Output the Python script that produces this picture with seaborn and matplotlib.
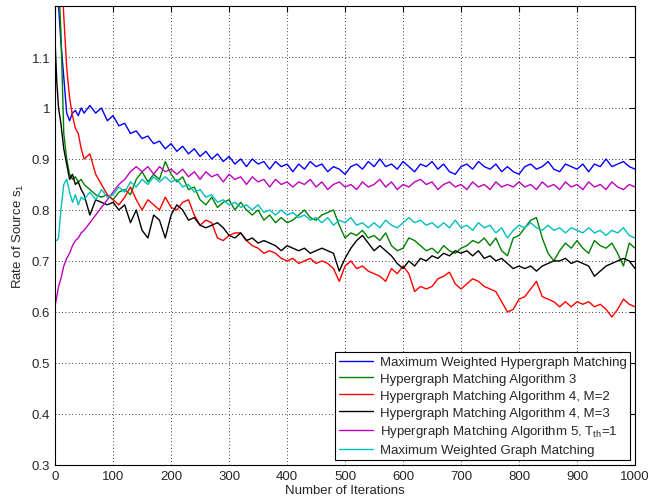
import pandas as pd
import seaborn as sns
import matplotlib
matplotlib.use("Agg")
import matplotlib.pyplot as plt

iterations = [0, 3, 6, 10, 15, 20, 25, 30, 35, 40, 45, 50] + list(range(60, 1001, 10))

mwhm = [1.40, 1.30, 1.20, 1.13, 1.06, 0.99, 0.975, 0.99, 0.995, 0.985, 1.0, 0.99,
        1.005, 0.99, 1.0, 0.975, 0.985, 0.965, 0.97, 0.95, 0.955, 0.94, 0.945, 0.93, 0.935, 0.92, 0.93,
        0.915, 0.925, 0.91, 0.92, 0.905, 0.915, 0.9, 0.91, 0.895, 0.905, 0.89, 0.9, 0.885, 0.9, 0.89, 0.895, 0.88, 0.895, 0.885, 0.89,
        0.875, 0.89, 0.88, 0.895, 0.885, 0.89, 0.875, 0.885, 0.88, 0.87, 0.885, 0.89, 0.88, 0.895, 0.885, 0.9, 0.885, 0.89, 0.88, 0.895,
        0.885, 0.875, 0.89, 0.885, 0.895, 0.88, 0.89, 0.875, 0.87, 0.885, 0.89, 0.88, 0.895, 0.885, 0.88, 0.89, 0.875, 0.885, 0.875, 0.87,
        0.885, 0.89, 0.88, 0.885, 0.895, 0.88, 0.875, 0.89, 0.885, 0.88, 0.89, 0.875, 0.89, 0.885, 0.9, 0.885, 0.89, 0.895, 0.885, 0.88]

alg3 = [1.45, 1.35, 1.25, 1.15, 0.95, 0.90, 0.87, 0.86, 0.865, 0.855, 0.86, 0.85,
        0.84, 0.83, 0.825, 0.83, 0.82, 0.835, 0.84, 0.83, 0.86, 0.875, 0.855, 0.87, 0.86, 0.895, 0.87,
        0.855, 0.865, 0.84, 0.845, 0.82, 0.81, 0.825, 0.805, 0.815, 0.82, 0.80, 0.815, 0.80, 0.79, 0.80, 0.78, 0.79, 0.775, 0.785, 0.775,
        0.78, 0.79, 0.80, 0.785, 0.78, 0.79, 0.795, 0.80, 0.77, 0.745, 0.755, 0.75, 0.76, 0.745, 0.75, 0.74, 0.755, 0.73, 0.72, 0.725,
        0.745, 0.74, 0.73, 0.72, 0.725, 0.715, 0.73, 0.72, 0.715, 0.725, 0.73, 0.74, 0.735, 0.745, 0.73, 0.745, 0.72, 0.71, 0.745, 0.75,
        0.765, 0.78, 0.785, 0.745, 0.715, 0.70, 0.72, 0.735, 0.725, 0.74, 0.725, 0.715, 0.74, 0.73, 0.725, 0.735, 0.715, 0.69, 0.735, 0.725]

alg4_m2 = [1.6, 1.5, 1.4, 1.3, 1.18, 1.08, 1.02, 0.985, 0.96, 0.95, 0.92, 0.90,
           0.91, 0.87, 0.85, 0.83, 0.82, 0.81, 0.825, 0.845, 0.82, 0.80, 0.82, 0.81, 0.80, 0.825, 0.805,
           0.80, 0.815, 0.82, 0.79, 0.77, 0.78, 0.775, 0.745, 0.74, 0.75, 0.755, 0.755, 0.74, 0.73, 0.725, 0.715, 0.72, 0.715, 0.705, 0.70,
           0.705, 0.695, 0.70, 0.705, 0.695, 0.70, 0.695, 0.685, 0.66, 0.69, 0.70, 0.685, 0.69, 0.68, 0.675, 0.67, 0.66, 0.685, 0.675, 0.69,
           0.675, 0.64, 0.65, 0.645, 0.65, 0.665, 0.67, 0.678, 0.655, 0.645, 0.655, 0.665, 0.66, 0.65, 0.645, 0.64, 0.62, 0.60, 0.605, 0.625,
           0.63, 0.645, 0.66, 0.63, 0.625, 0.62, 0.61, 0.62, 0.61, 0.62, 0.615, 0.62, 0.61, 0.615, 0.605, 0.59, 0.605, 0.625, 0.615, 0.61]

alg4_m3 = [1.13, 1.05, 1.0, 0.97, 0.92, 0.89, 0.86, 0.87, 0.85, 0.855, 0.84, 0.83,
           0.79, 0.82, 0.815, 0.81, 0.815, 0.80, 0.81, 0.775, 0.80, 0.76, 0.745, 0.79, 0.78, 0.745, 0.79,
           0.81, 0.80, 0.78, 0.785, 0.77, 0.765, 0.77, 0.775, 0.765, 0.75, 0.745, 0.755, 0.74, 0.745, 0.735, 0.74, 0.735, 0.73, 0.72, 0.73,
           0.725, 0.72, 0.725, 0.715, 0.72, 0.725, 0.72, 0.715, 0.68, 0.705, 0.725, 0.74, 0.75, 0.735, 0.72, 0.73, 0.72, 0.71, 0.695, 0.685,
           0.70, 0.69, 0.705, 0.70, 0.71, 0.705, 0.715, 0.71, 0.72, 0.715, 0.72, 0.71, 0.72, 0.705, 0.71, 0.70, 0.705, 0.695, 0.685, 0.69,
           0.685, 0.69, 0.68, 0.69, 0.695, 0.70, 0.70, 0.705, 0.695, 0.70, 0.695, 0.69, 0.67, 0.68, 0.69, 0.695, 0.70, 0.705, 0.70, 0.685]

alg5 = [0.612, 0.63, 0.65, 0.665, 0.69, 0.705, 0.715, 0.73, 0.74, 0.745, 0.755, 0.76,
        0.775, 0.79, 0.805, 0.82, 0.835, 0.85, 0.86, 0.875, 0.885, 0.875, 0.885, 0.87, 0.885, 0.875, 0.88,
        0.87, 0.88, 0.865, 0.875, 0.86, 0.875, 0.865, 0.87, 0.855, 0.87, 0.86, 0.865, 0.85, 0.865, 0.855, 0.86, 0.845, 0.86, 0.85, 0.855,
        0.845, 0.855, 0.85, 0.86, 0.845, 0.855, 0.84, 0.85, 0.855, 0.845, 0.85, 0.84, 0.855, 0.845, 0.85, 0.86, 0.845, 0.855, 0.84, 0.85,
        0.845, 0.855, 0.86, 0.85, 0.855, 0.84, 0.85, 0.855, 0.845, 0.85, 0.84, 0.855, 0.845, 0.85, 0.84, 0.855, 0.845, 0.85, 0.845, 0.855,
        0.845, 0.85, 0.84, 0.855, 0.845, 0.85, 0.84, 0.855, 0.845, 0.85, 0.84, 0.855, 0.845, 0.85, 0.84, 0.855, 0.845, 0.84, 0.85, 0.845]

mwgm = [0.74, 0.74, 0.745, 0.80, 0.85, 0.86, 0.835, 0.815, 0.83, 0.81, 0.825, 0.82,
        0.835, 0.82, 0.84, 0.825, 0.83, 0.845, 0.835, 0.855, 0.845, 0.86, 0.85, 0.865, 0.855, 0.865, 0.855,
        0.86, 0.845, 0.85, 0.835, 0.84, 0.825, 0.83, 0.815, 0.82, 0.81, 0.815, 0.805, 0.81, 0.80, 0.81, 0.795, 0.80, 0.79, 0.80, 0.79,
        0.795, 0.785, 0.79, 0.78, 0.785, 0.775, 0.785, 0.77, 0.78, 0.775, 0.785, 0.77, 0.775, 0.765, 0.775, 0.765, 0.78, 0.77, 0.765, 0.775,
        0.785, 0.775, 0.78, 0.77, 0.775, 0.765, 0.775, 0.765, 0.78, 0.765, 0.77, 0.76, 0.775, 0.765, 0.77, 0.755, 0.765, 0.745, 0.76, 0.77,
        0.765, 0.775, 0.765, 0.76, 0.77, 0.76, 0.765, 0.755, 0.765, 0.76, 0.755, 0.765, 0.755, 0.76, 0.75, 0.76, 0.755, 0.765, 0.75, 0.745]

labels = ["Maximum Weighted Hypergraph Matching",
          "Hypergraph Matching Algorithm 3",
          "Hypergraph Matching Algorithm 4, M=2",
          "Hypergraph Matching Algorithm 4, M=3",
          r"Hypergraph Matching Algorithm 5, $\mathregular{T_{th}}$=1",
          "Maximum Weighted Graph Matching"]
colors = ["#0000ff", "#008000", "#ff0000", "#000000", "#bf00bf", "#00bfbf"]
series = [mwhm, alg3, alg4_m2, alg4_m3, alg5, mwgm]

frames = []
for name, vals in zip(labels, series):
    assert len(vals) == len(iterations), name
    frames.append(pd.DataFrame({"Iteration": iterations, "Rate": vals, "Scheme": name}))
df = pd.concat(frames, ignore_index=True)

sns.set_style("white")
plt.rcParams["font.family"] = ["Liberation Sans", "DejaVu Sans"]
plt.rcParams["mathtext.fontset"] = "custom"
plt.rcParams["mathtext.rm"] = "Liberation Sans"

fig = plt.figure(figsize=(6.48, 5.02), dpi=100)
ax = fig.add_axes([0.085, 0.072, 0.895, 0.914])

sns.lineplot(data=df, x="Iteration", y="Rate", hue="Scheme", hue_order=labels,
             palette=colors, estimator=None, sort=False, linewidth=1.0, ax=ax)

ax.set_xlim(0, 1000)
ax.set_ylim(0.3, 1.2)
ax.set_xticks(range(0, 1001, 100))
ax.set_yticks([0.3, 0.4, 0.5, 0.6, 0.7, 0.8, 0.9, 1.0, 1.1])
ax.set_yticklabels(["0.3", "0.4", "0.5", "0.6", "0.7", "0.8", "0.9", "1", "1.1"])
ax.grid(True, linestyle=(0, (1, 3)), color="black", linewidth=0.6)
ax.tick_params(direction="in", top=True, right=True, length=4, labelsize=9.5, color="black")
for s in ax.spines.values():
    s.set_color("black")
    s.set_linewidth(0.8)

ax.set_xlabel("Number of Iterations", fontsize=9.5, labelpad=2)
ax.set_ylabel(r"Rate of Source $\mathregular{s_1}$", fontsize=9.5, labelpad=4)

leg = ax.legend(loc="lower right", fontsize=9.5, frameon=True, fancybox=False,
                framealpha=1, edgecolor="black", handlelength=2.6, borderaxespad=0.35,
                labelspacing=0.35, borderpad=0.3, handletextpad=0.5)
leg.get_frame().set_linewidth(0.8)

fig.savefig("out.png", dpi=100)
